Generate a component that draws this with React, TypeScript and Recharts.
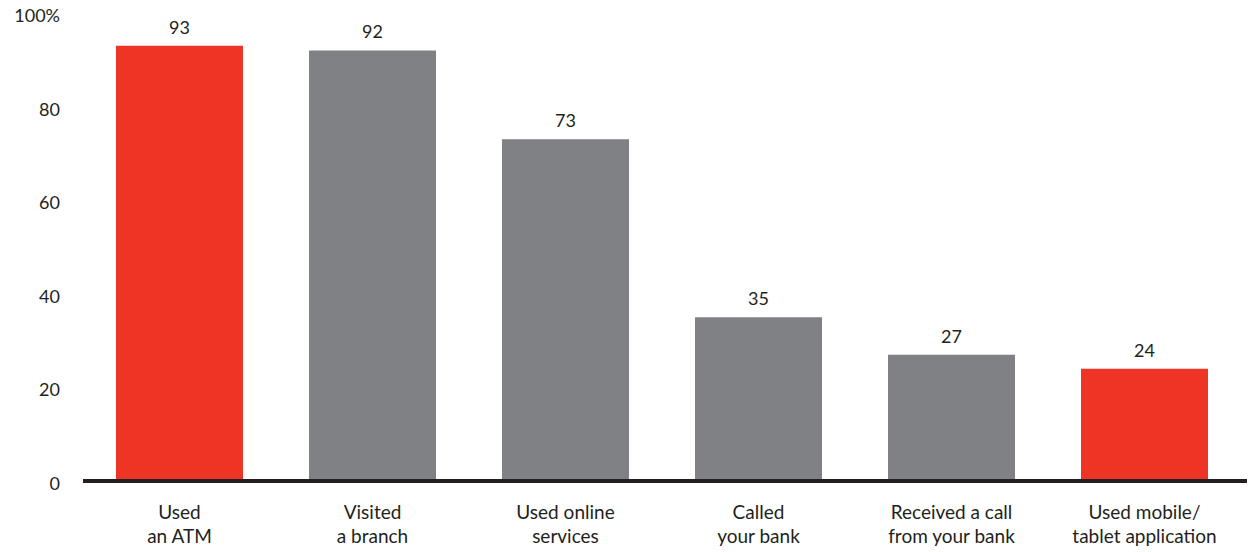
import { BarChart, Bar, XAxis, YAxis, Cell, LabelList } from 'recharts';

const categories = [
  ['Used', 'an ATM'],
  ['Visited', 'a branch'],
  ['Used online', 'services'],
  ['Called', 'your bank'],
  ['Received a call', 'from your bank'],
  ['Used mobile/', 'tablet application']
];
const values = [93, 92, 73, 35, 27, 24];
const highlighted = [true, false, false, false, false, true];
const yTicks = [0, 20, 40, 60, 80, 100];

const RED = '#ee3424';
const GREY = '#808185';
const INK = '#231f20';
const FONT = 'Lato, "Noto Sans", sans-serif';

const data = values.map((v, i) => ({ name: categories[i].join(' '), value: v }));

function XTick({ x, y, payload }: any) {
  const lines = categories[payload.index] ?? [payload.value];
  return (
    <text x={x} y={y} textAnchor="middle" fill={INK} fontSize={19} fontFamily={FONT}>
      {lines.map((line, i) => (
        <tspan key={i} x={x} y={y + 38 + i * 24}>
          {line}
        </tspan>
      ))}
    </text>
  );
}

function YTick({ x, y, payload }: any) {
  return (
    <text x={x} y={y + 9} textAnchor="end" fill={INK} fontSize={18} fontFamily={FONT}>
      {payload.value === 100 ? '100%' : payload.value}
    </text>
  );
}

export default function App() {
  return (
    <div
      style={{
        position: 'absolute',
        left: 0,
        top: 0,
        width: 1248,
        height: 552,
        overflow: 'hidden',
        background: '#fff'
      }}
    >
      <BarChart
        width={1248}
        height={552}
        data={data}
        margin={{ top: 13, right: 1, bottom: 0, left: 0 }}
      >
        <XAxis
          dataKey="name"
          height={71}
          tickSize={0}
          tickMargin={0}
          interval={0}
          padding={{ left: 0, right: 6 }}
          axisLine={{ stroke: INK, strokeWidth: 4 }}
          tick={<XTick />}
        />
        <YAxis
          width={83}
          domain={[0, 100]}
          ticks={yTicks}
          axisLine={false}
          tickLine={false}
          tickSize={0}
          tickMargin={23}
          tick={<YTick />}
        />
        <Bar dataKey="value" barSize={127} isAnimationActive={false}>
          {data.map((d, i) => (
            <Cell key={d.name} fill={highlighted[i] ? RED : GREY} />
          ))}
          <LabelList
            dataKey="value"
            position="top"
            offset={12}
            fill={INK}
            fontSize={18}
            fontFamily={FONT}
          />
        </Bar>
      </BarChart>
    </div>
  );
}
